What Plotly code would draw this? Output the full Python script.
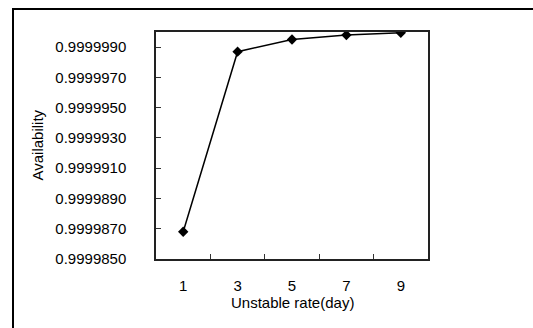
import plotly.graph_objects as go

unstable_rate = ["1", "3", "5", "7", "9"]
availability = [0.9999868, 0.9999987, 0.9999995, 0.9999998, 0.99999995]
y_ticks = [0.9999850, 0.9999870, 0.9999890, 0.9999910, 0.9999930, 0.9999950, 0.9999970, 0.9999990]
y_tick_labels = ["0.9999850", "0.9999870", "0.9999890", "0.9999910", "0.9999930", "0.9999950", "0.9999970", "0.9999990"]

FONT = "Liberation Sans, Arial, sans-serif"
L, R, T, B = 156, 105, 32, 69
W, H = 533, 328
pw, ph = W - L - R, H - T - B

fig = go.Figure()
fig.add_trace(go.Scatter(
    x=unstable_rate, y=availability, mode="lines+markers",
    line=dict(color="black", width=1.5),
    marker=dict(symbol="diamond", size=8, color="black"),
    showlegend=False,
))

fig.update_layout(
    width=W, height=H,
    margin=dict(l=L, r=R, t=T, b=B),
    paper_bgcolor="white", plot_bgcolor="white",
    font=dict(family=FONT, size=15, color="black"),
    xaxis=dict(
        type="category", range=[-0.5, len(unstable_rate) - 0.5],
        tickson="boundaries", ticks="inside", ticklen=5,
        tickcolor="#333", showline=True, linecolor="#222", linewidth=1.5, mirror=True,
        showgrid=False, zeroline=False, ticklabelstandoff=12,
        tickfont=dict(size=15),
    ),
    yaxis=dict(
        range=[0.999985, 1.0], tickvals=y_ticks, ticktext=y_tick_labels,
        ticks="inside", ticklen=5, tickcolor="#333",
        showline=True, linecolor="#222", linewidth=1.5, mirror=True,
        showgrid=False, zeroline=False, ticklabelstandoff=25,
        tickfont=dict(size=15),
    ),
    annotations=[
        dict(text="Availability", xref="paper", yref="paper",
             x=(37 - L) / pw, y=0.5, textangle=-90, showarrow=False,
             font=dict(size=15), xanchor="center", yanchor="middle"),
        dict(text="Unstable rate(day)", xref="paper", yref="paper",
             x=0.5, y=-(302 - (H - B)) / ph, showarrow=False,
             font=dict(size=15), xanchor="center", yanchor="middle"),
    ],
    shapes=[
        dict(type="rect", xref="paper", yref="paper",
             x0=(13 - L) / pw, x1=1.6, y0=-0.6, y1=1 + (T - 9) / ph,
             line=dict(color="black", width=2), layer="below"),
    ],
)

fig.write_html(
    "out.html",
    config={"displayModeBar": False},
    post_script="document.body.style.margin='0';document.body.style.overflow='hidden';",
)
